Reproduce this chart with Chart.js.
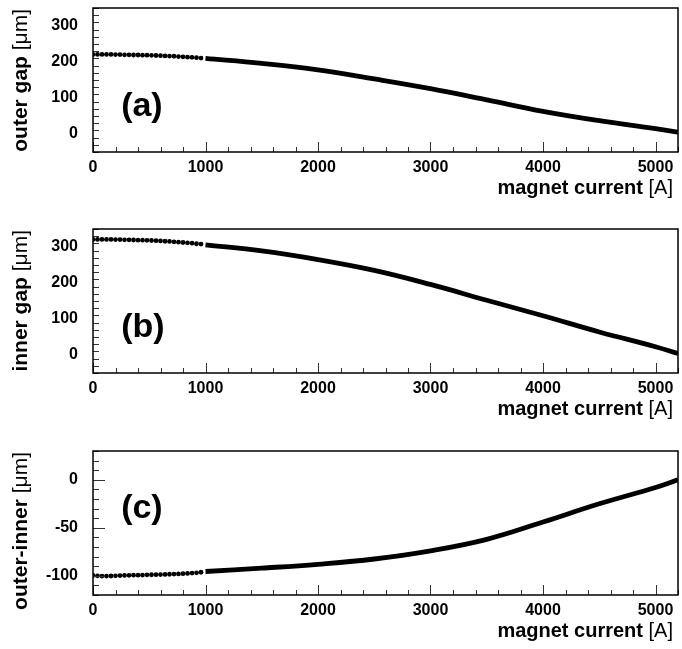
<!DOCTYPE html>
<html>
<head>
<meta charset="utf-8">
<script src="https://cdn.jsdelivr.net/npm/chart.js@4.4.1/dist/chart.umd.min.js"></script>
<style>
html, body { margin: 0; padding: 0; background: #fff; overflow: hidden; }
.panel { position: absolute; left: 0; width: 682px; height: 210px; }
</style>
</head>
<body>
<div class="panel" style="top:0px"><canvas id="pa" width="682" height="210"></canvas></div>
<div class="panel" style="top:221px"><canvas id="pb" width="682" height="210"></canvas></div>
<div class="panel" style="top:443px"><canvas id="pc" width="682" height="210"></canvas></div>
<script>
// low current scan (sparse dots) and high current scan (dense, looks like a thick line)
const lowCurrent = [0, 40, 80, 120, 160, 200, 240, 280, 320, 360, 400, 440, 480,
                    520, 560, 600, 640, 680, 720, 760, 800, 840, 880, 920, 960];
const outerLow = [221, 221, 221, 221, 221, 220.5, 220.5, 220, 220, 219.5, 219.5, 219, 219,
                  218.5, 218, 217.5, 217, 216.5, 216, 215, 214.5, 213.5, 213, 212, 211];
const innerLow = [321, 321, 321, 321, 321, 320.5, 320.5, 320, 320, 319.5, 319, 319, 318.5,
                  318, 317.5, 317, 316, 315.5, 314.5, 313.5, 312.5, 311.5, 310.5, 309, 308];
const diffLow = [-99.6, -100, -100.3, -100.3, -100.2, -100, -99.8, -99.6, -99.5, -99.4, -99.3, -99.2, -99,
                 -98.9, -98.8, -98.7, -98.6, -98.4, -98.2, -98, -97.8, -97.5, -97.2, -96.9, -96.3];

const highCurrent = [1000, 1500, 2000, 2500, 3000, 3500, 4000, 4500, 5000, 5200];
const outerHigh = [210, 196, 178, 153, 126, 95, 63, 37, 15, 5];
const innerHigh = [306, 289, 265, 235, 196, 152, 109, 64, 23, 4];
const diffHigh = [-95.5, -92, -88, -82.5, -74, -62, -44, -25, -8, 0];

const xTickValues = [0, 1000, 2000, 3000, 4000, 5000];
const gapTickValues = [0, 100, 200, 300];
const diffTickValues = [-100, -50, 0];

const FONT = "'Liberation Sans', Arial, Helvetica, sans-serif";

function toPoints(xs, ys) {
    return xs.map((x, i) => ({x: x, y: ys[i]}));
}

// ROOT-like frame: ticks inside the box, mixed weight titles, panel letter
const rootFrame = {
    id: 'rootFrame',
    afterDraw(chart) {
        const o = chart.options.plugins.rootFrame;
        const ctx = chart.ctx;
        const a = chart.chartArea;
        const xs = chart.scales.x, ys = chart.scales.y;
        ctx.save();
        ctx.strokeStyle = '#333';
        ctx.lineWidth = 1;
        ctx.beginPath();
        for (let v = xs.min; v <= xs.max + 0.01; v += 200) {
            const px = Math.round(xs.getPixelForValue(v)) + 0.5;
            const len = (v % 1000 === 0) ? 10 : 5;
            ctx.moveTo(px, a.bottom);
            ctx.lineTo(px, a.bottom - len);
        }
        for (let v = ys.min; v <= ys.max + 0.01; v += o.yMinor) {
            const py = Math.round(ys.getPixelForValue(v)) + 0.5;
            const len = o.yTicks.includes(v) ? 12 : 6;
            ctx.moveTo(a.left, py);
            ctx.lineTo(a.left + len, py);
        }
        ctx.stroke();

        ctx.strokeStyle = '#000';
        ctx.lineWidth = 1.5;
        ctx.strokeRect(a.left, a.top, a.right - a.left, a.bottom - a.top);

        ctx.fillStyle = '#000';
        // x title
        ctx.textBaseline = 'alphabetic';
        ctx.textAlign = 'right';
        ctx.font = '20px ' + FONT;
        const unitA = '[A]';
        const wA = ctx.measureText(unitA).width;
        ctx.fillText(unitA, a.right - 5, a.bottom + 42);
        ctx.font = 'bold 20px ' + FONT;
        ctx.fillText('magnet current ', a.right - 5 - wA, a.bottom + 42);

        // y title
        ctx.save();
        ctx.translate(27, a.top + 1);
        ctx.rotate(-Math.PI / 2);
        ctx.font = '21px ' + FONT;
        const unitU = '[\u03bcm]';
        const wU = ctx.measureText(unitU).width;
        ctx.fillText(unitU, 0, 0);
        ctx.font = 'bold 21px ' + FONT;
        ctx.fillText(o.title, -wU, 0);
        ctx.restore();

        // panel letter
        ctx.textAlign = 'left';
        ctx.font = 'bold 34px ' + FONT;
        ctx.fillText(o.letter, xs.getPixelForValue(o.letterAt[0]), ys.getPixelForValue(o.letterAt[1]));
        ctx.restore();
    }
};

const panels = [
    {id: 'pa', low: outerLow, high: outerHigh, yMin: -50, yMax: 350, yTicks: gapTickValues, yMinor: 20,
     title: 'outer gap ', letter: '(a)', letterAt: [250, 50]},
    {id: 'pb', low: innerLow, high: innerHigh, yMin: -50, yMax: 350, yTicks: gapTickValues, yMinor: 20,
     title: 'inner gap ', letter: '(b)', letterAt: [250, 50]},
    {id: 'pc', low: diffLow, high: diffHigh, yMin: -120, yMax: 30, yTicks: diffTickValues, yMinor: 10,
     title: 'outer-inner ', letter: '(c)', letterAt: [250, -40]}
];

panels.forEach(p => {
    new Chart(document.getElementById(p.id).getContext('2d'), {
        type: 'scatter',
        data: {
            datasets: [{
                data: toPoints(lowCurrent, p.low),
                showLine: false,
                pointRadius: 2.4,
                pointBorderWidth: 0,
                pointBackgroundColor: '#000'
            }, {
                data: toPoints(highCurrent, p.high),
                showLine: true,
                borderColor: '#000',
                borderWidth: 4.8,
                tension: 0.4,
                pointRadius: 0
            }]
        },
        plugins: [rootFrame],
        options: {
            responsive: false,
            animation: false,
            events: [],
            layout: {padding: {top: 8, right: 1, left: 0, bottom: 0}},
            plugins: {
                legend: {display: false},
                tooltip: {enabled: false},
                rootFrame: p
            },
            scales: {
                x: {
                    type: 'linear', min: 0, max: 5200,
                    grid: {display: false, drawTicks: false},
                    border: {display: false},
                    afterBuildTicks: s => { s.ticks = xTickValues.map(v => ({value: v})); },
                    afterFit: s => { s.height = 58; s.paddingLeft = 0; s.paddingRight = 0; },
                    ticks: {padding: 6, color: '#000', maxRotation: 0,
                            callback: v => String(v),
                            font: {family: FONT, size: 16, weight: 'bold'}}
                },
                y: {
                    type: 'linear', min: p.yMin, max: p.yMax,
                    grid: {display: false, drawTicks: false},
                    border: {display: false},
                    afterBuildTicks: s => { s.ticks = p.yTicks.map(v => ({value: v})); },
                    afterFit: s => { s.width = 93; s.paddingTop = 0; s.paddingBottom = 0; },
                    ticks: {padding: 15, color: '#000',
                            callback: v => String(v),
                            font: {family: FONT, size: 16, weight: 'bold'}}
                }
            }
        }
    });
});
</script>
</body>
</html>
